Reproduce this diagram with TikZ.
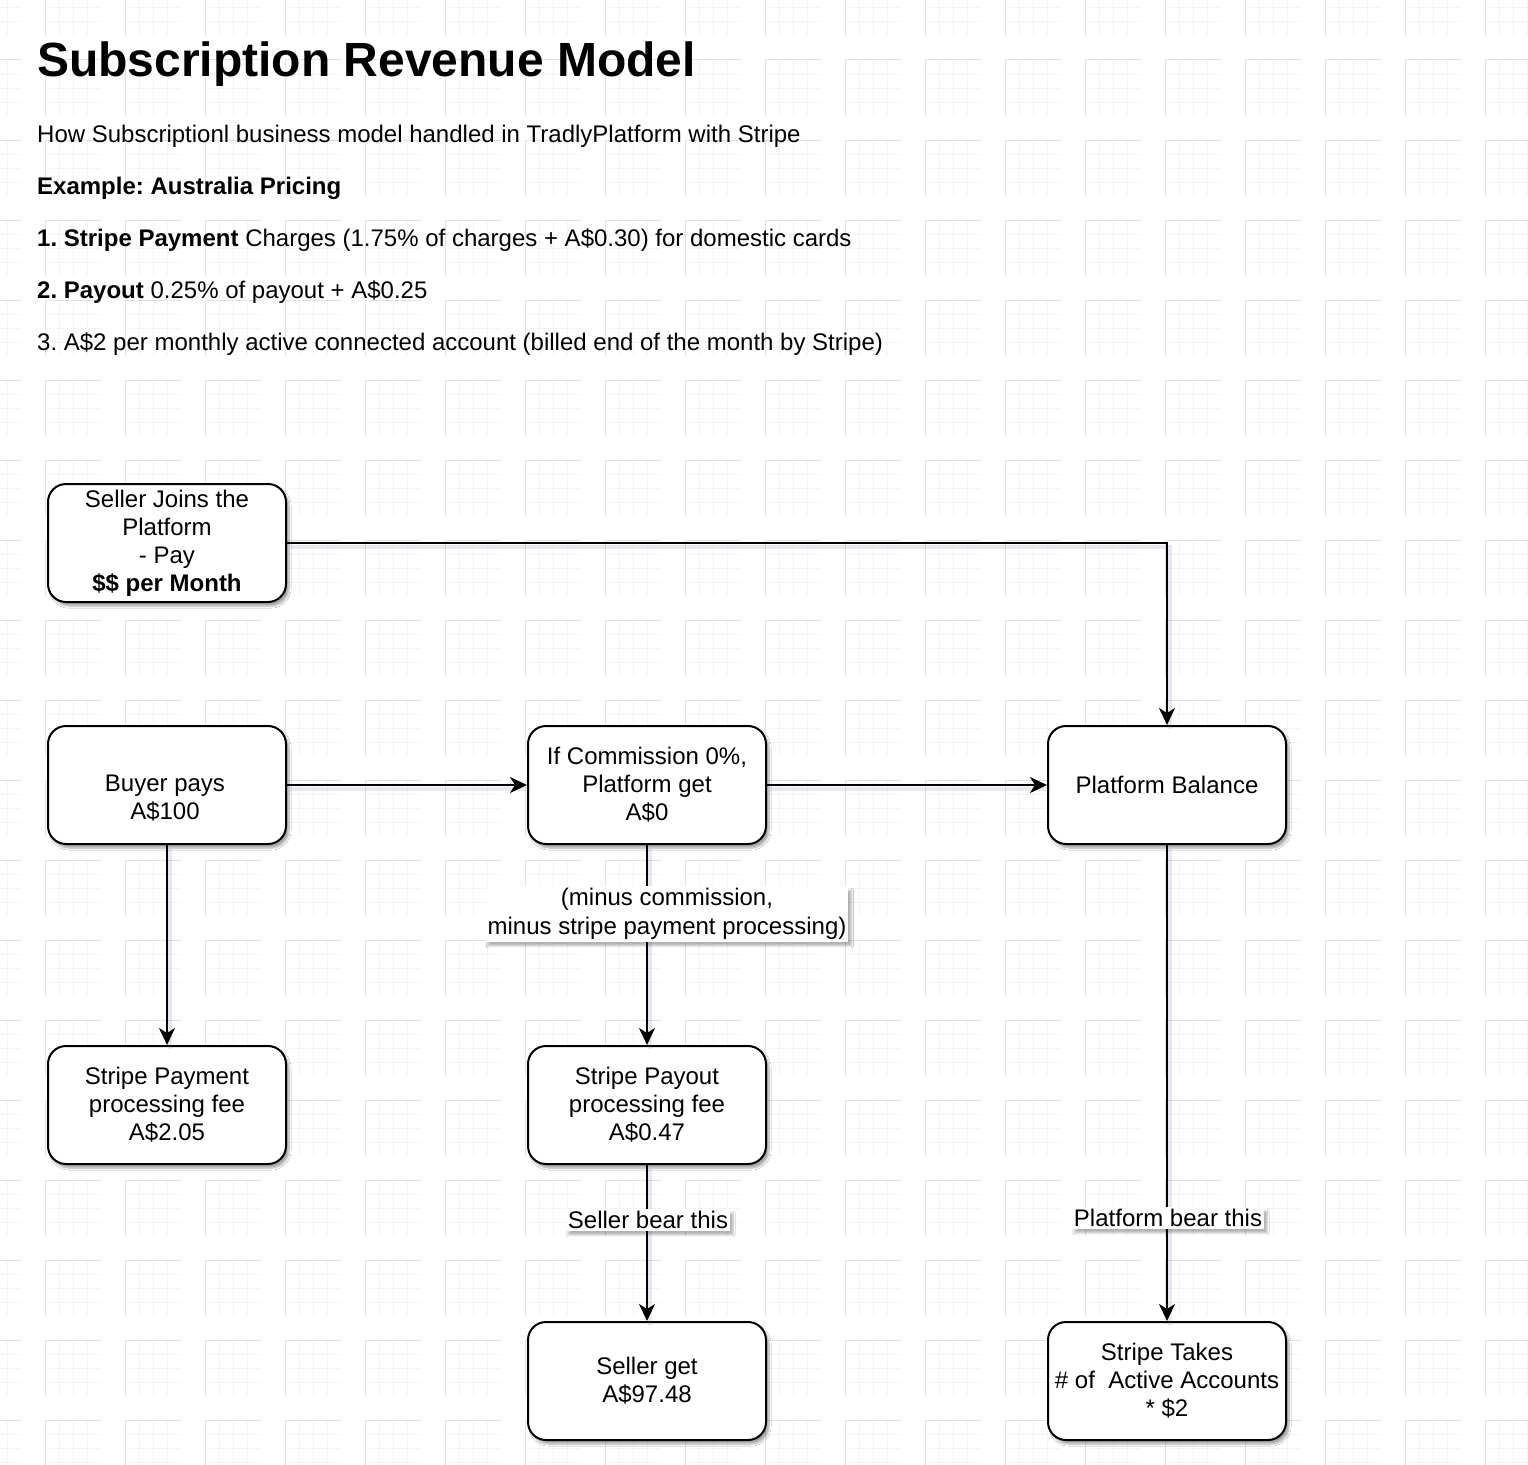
\documentclass[tikz,border=0pt]{standalone}
\usepackage{fontspec}
\setmainfont{Liberation Sans}
\usetikzlibrary{arrows.meta,shadows,shadows.blur}
\definecolor{gmin}{HTML}{F4F4F4}
\definecolor{gmaj}{HTML}{E2E2E2}
\definecolor{shc}{HTML}{6A6F8E}
\frenchspacing
\begin{document}
\begin{tikzpicture}[x=1pt,y=-1pt,
  box/.style={draw=black, line width=2pt, rounded corners=18pt, fill=white,
    minimum width=238pt, minimum height=118pt, align=center, inner sep=4pt,
    font=\fontsize{24}{28}\selectfont,
    blur shadow={shadow xshift=3pt, shadow yshift=-4pt, shadow blur steps=6, shadow opacity=35, shadow blur extra rounding=4pt}},
  boxtext/.style={align=center, inner sep=0pt, font=\fontsize{24}{28}\selectfont},
  lbl/.style={fill=white, align=center, inner sep=2pt, font=\fontsize{24}{29}\selectfont,
    blur shadow={shadow xshift=3pt, shadow yshift=-4pt, shadow blur steps=5, shadow opacity=30}},
  arr/.style={line width=2pt, -{Stealth[length=17pt, width=16pt, inset=5pt]},
    preaction={draw=shc, draw opacity=0.15, line width=4pt, -, transform canvas={shift={(3pt,-4pt)}}}},
  hd/.style={anchor=base west, inner sep=0pt, font=\fontsize{24}{28}\selectfont},
]
\useasboundingbox (0,0) rectangle (1528,1464);
\fill[white] (0,0) rectangle (1528,1464);
% grid tiles
\foreach \i in {-1,...,18} {
  \foreach \j in {-1,...,17} {
    \begin{scope}[shift={({45+80*\i},{60+80*\j})}]
      \draw[gmin, line width=1pt] (14,0) -- (14,56) (28,0) -- (28,56) (42,0) -- (42,56)
        (0,14) -- (56,14) (0,28) -- (56,28) (0,42) -- (56,42);
      \draw[gmaj, line width=1pt] (0,56) -- (0,0) -- (56,0);
    \end{scope}
  }
}

% header text
\node[hd, font=\fontsize{48}{56}\selectfont\bfseries] (title) at (37,77) {Subscription Revenue Model};
\node[hd] (sub) at (37,142) {How Subscriptionl business model handled in TradlyPlatform with Stripe};
\node[hd] (ex) at (37,194) {\textbf{Example: Australia Pricing}};
\node[hd] (p1) at (37,246) {\textbf{1. Stripe Payment} Charges (1.75\% of charges + A\$0.30) for domestic cards};
\node[hd] (p2) at (37,298) {\textbf{2. Payout} 0.25\% of payout + A\$0.25};
\node[hd] (p3) at (37,350) {3. A\$2 per monthly active connected account (billed end of the month by Stripe)};

% boxes
\node[box] (seller) at (167,543) {Seller Joins the\\Platform\\- Pay\\\textbf{\$\$ per Month}};
\node[box] (buyer) at (167,785) {};
\node[boxtext] (buyertxt) at (165,798) {Buyer pays\\A\$100};
\node[box] (comm) at (647,785) {If Commission 0\%,\\Platform get\\A\$0};
\node[box] (pbal) at (1167,785) {Platform Balance};
\node[box] (spay) at (167,1105) {Stripe Payment\\processing fee\\A\$2.05};
\node[box] (spo) at (647,1105) {Stripe Payout\\processing fee\\A\$0.47};
\node[box] (sget) at (647,1381) {Seller get\\A\$97.48};
\node[box] (stakes) at (1167,1381) {Stripe Takes\\\# of\ \ Active Accounts\\* \$2};

% connectors
\draw[arr] (seller.east) -| (pbal.north);
\draw[arr] (buyer.east) -- (comm.west);
\draw[arr] (comm.east) -- (pbal.west);
\draw[arr] (buyer.south) -- (spay.north);
\draw[arr] (comm.south) -- (spo.north);
\draw[arr] (spo.south) -- (sget.north);
\draw[arr] (pbal.south) -- (stakes.north);

% labels
\node[lbl] (l1) at (667,914) {(minus commission,\\minus stripe payment processing)};
\node[lbl] (l2) at (648,1220) {Seller bear this};
\node[lbl] (l3) at (1168,1218) {Platform bear this};
\end{tikzpicture}
\end{document}
